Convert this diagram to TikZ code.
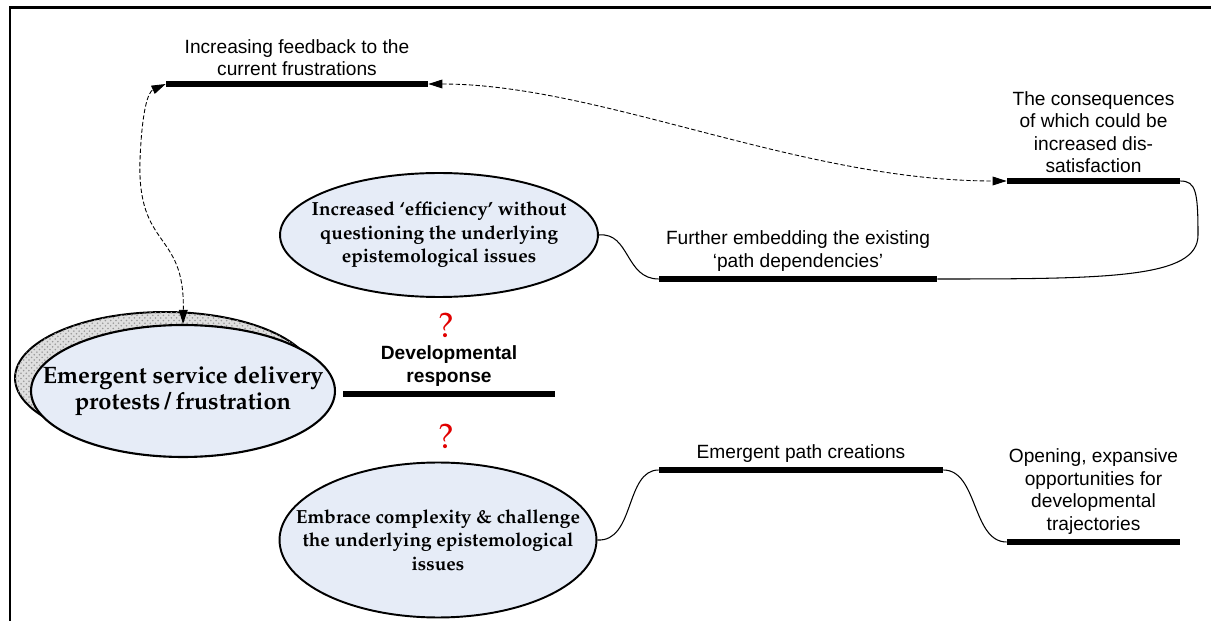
\documentclass[tikz,border=0pt]{standalone}
\usepackage[T1]{fontenc}
\usepackage{fontspec}
\setmainfont{Liberation Sans}
\usepackage{xcolor}
\definecolor{ellfill}{RGB}{230,236,247}
\definecolor{qred}{RGB}{225,0,0}
\usetikzlibrary{
    shapes.geometric,
    arrows.meta,
    positioning,
    patterns
}
\newcommand{\palbold}{\fontencoding{T1}\fontfamily{ppl}\fontseries{b}\selectfont}
\newcommand{\palreg}{\fontencoding{T1}\fontfamily{ppl}\fontseries{m}\selectfont}

\begin{document}
\begin{tikzpicture}[
        x=0.02cm, y=-0.02cm,
        bar/.style={rectangle, fill=black, inner sep=0pt, minimum height=0.11cm, minimum width=#1},
        lbl/.style={font=\fontsize{10.9}{12.8}\selectfont, align=center, inner sep=0pt},
        lblb/.style={font=\fontsize{10.9}{12.8}\selectfont\bfseries, align=center, inner sep=0pt},
        idea/.style={ellipse, draw=black, line width=1.1pt, fill=ellfill, inner xsep=-1cm, inner ysep=0pt, align=center, font=\palbold\fontsize{10.8}{13.4}\selectfont},
        quest/.style={text=qred, font=\palreg\fontsize{20}{20}\selectfont, inner sep=0pt},
        feed/.style={{Triangle[length=8pt,width=5pt]}-{Triangle[length=8pt,width=5pt]}, dash pattern=on 2.5pt off 1.3pt, line width=0.5pt},
        link/.style={line width=0.6pt}
    ]
        \useasboundingbox (0,0) rectangle (1211,621);
        % Frame
        \draw[line width=1.6pt] (10,621) -- (10,7.5) -- (1211,7.5);

        % Bars
        \node[bar=5.24cm] (fb) at (297,84) {};
        \node[bar=3.46cm] (cs) at (1093.5,181) {};
        \node[bar=5.56cm] (pd) at (798,279) {};
        \node[bar=4.24cm] (dr) at (449,394) {};
        \node[bar=5.68cm] (ep) at (801,470) {};
        \node[bar=3.46cm] (op) at (1093.5,542) {};

        % Bar labels
        \node[lbl, above=2.5pt of fb] (fbTxt) {Increasing feedback to the\\current frustrations};
        \node[lbl, above=2.5pt of cs] (csTxt) {The consequences\\of which could be\\increased dis-\\satisfaction};
        \node[lbl, above=2.5pt of pd] (pdTxt) {Further embedding the existing\\`path dependencies'};
        \node[lblb, above=2.5pt of dr] (drTxt) {Developmental\\response};
        \node[lbl, above=2.5pt of ep] (epTxt) {Emergent path creations};
        \node[lbl, above=2.5pt of op] (opTxt) {Opening, expansive\\opportunities for\\developmental\\trajectories};

        % Ellipses
        \node[idea, fill=gray!25, postaction={pattern=crosshatch dots, pattern color=gray!80}, minimum width=6.0cm, minimum height=2.64cm] (shad) at (165,378) {};
        \node[idea, line width=1.2pt, minimum width=6.08cm, minimum height=2.64cm, font=\palbold\fontsize{13.5}{14.8}\selectfont] (emg) at (183,391) {Emergent service delivery\\protests\,/\,frustration};
        \node[idea, minimum width=6.36cm, minimum height=2.48cm] (eff) at (439,235) {Increased `efficiency' without\\questioning the underlying\\epistemological issues};
        \node[idea, minimum width=6.34cm, minimum height=3.1cm] (emb) at (438,540) {Embrace complexity \& challenge\\the underlying epistemological\\issues};

        % Question marks
        \node[quest] (q1) at (446,325) {?};
        \node[quest] (q2) at (446,436) {?};

        % Feedback loops
        \draw[feed] (emg.north) .. controls (185,230) and (137,250) .. (140,160) .. controls (142,110) and (148,92) .. (fb.west);
        \draw[feed] (fb.east) .. controls (600,84) and (800,181) .. (cs.west);

        % Links
        \draw[link] (eff.east) .. controls (630,232) and (625,279) .. (pd.west);
        \draw[link] (pd.east) .. controls (1110,279) and (1198,278) .. (1198,235) .. controls (1198,192) and (1196,181) .. (cs.east);
        \draw[link] (emb.east) .. controls (635,542) and (625,470) .. (ep.west);
        \draw[link] (ep.east) .. controls (978,470) and (972,542) .. (op.west);
    \end{tikzpicture}
\end{document}
